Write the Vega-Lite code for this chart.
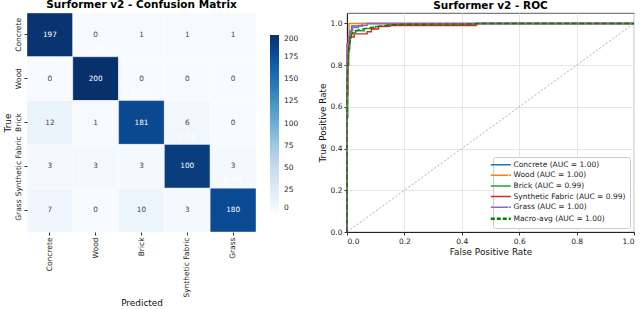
{
  "$schema": "https://vega.github.io/schema/vega-lite/v6.json",
  "padding": {"left": 3, "top": 0, "right": 0, "bottom": 0},
  "background": "white",
  "config": {
    "font": "DejaVu Sans",
    "view": {"stroke": null},
    "axis": {"labelFont": "DejaVu Sans", "titleFont": "DejaVu Sans", "labelFontSize": 7.5, "titleFontSize": 8.9, "titleFontWeight": "normal", "labelColor": "#222", "titleColor": "#111", "tickColor": "#333", "tickSize": 3, "labelPadding": 2},
    "title": {"font": "DejaVu Sans", "fontSize": 10.5, "fontWeight": "bold", "offset": 2, "color": "#000"},
    "legend": {"labelFont": "DejaVu Sans"}
  },
  "datasets": {
    "cm": [
      {"pred": "Concrete", "true": "Concrete", "n": 197, "label": "197"},
      {"pred": "Wood", "true": "Concrete", "n": 0, "label": "0"},
      {"pred": "Brick", "true": "Concrete", "n": 1, "label": "1"},
      {"pred": "Synthetic Fabric", "true": "Concrete", "n": 1, "label": "1"},
      {"pred": "Grass", "true": "Concrete", "n": 1, "label": "1"},
      {"pred": "Concrete", "true": "Wood", "n": 0, "label": "0"},
      {"pred": "Wood", "true": "Wood", "n": 200, "label": "200"},
      {"pred": "Brick", "true": "Wood", "n": 0, "label": "0"},
      {"pred": "Synthetic Fabric", "true": "Wood", "n": 0, "label": "0"},
      {"pred": "Grass", "true": "Wood", "n": 0, "label": "0"},
      {"pred": "Concrete", "true": "Brick", "n": 12, "label": "12"},
      {"pred": "Wood", "true": "Brick", "n": 1, "label": "1"},
      {"pred": "Brick", "true": "Brick", "n": 181, "label": "181"},
      {"pred": "Synthetic Fabric", "true": "Brick", "n": 6, "label": "6"},
      {"pred": "Grass", "true": "Brick", "n": 0, "label": "0"},
      {"pred": "Concrete", "true": "Synthetic Fabric", "n": 3, "label": "3"},
      {"pred": "Wood", "true": "Synthetic Fabric", "n": 3, "label": "3"},
      {"pred": "Brick", "true": "Synthetic Fabric", "n": 3, "label": "3"},
      {"pred": "Synthetic Fabric", "true": "Synthetic Fabric", "n": 190, "label": "100"},
      {"pred": "Grass", "true": "Synthetic Fabric", "n": 3, "label": "3"},
      {"pred": "Concrete", "true": "Grass", "n": 7, "label": "7"},
      {"pred": "Wood", "true": "Grass", "n": 0, "label": "0"},
      {"pred": "Brick", "true": "Grass", "n": 10, "label": "10"},
      {"pred": "Synthetic Fabric", "true": "Grass", "n": 3, "label": "3"},
      {"pred": "Grass", "true": "Grass", "n": 180, "label": "180"}
    ],
    "recall": [
      {"pred": "Wood", "true": "Concrete", "v": "1.00"},
      {"pred": "Brick", "true": "Wood", "v": "0.91"},
      {"pred": "Synthetic Fabric", "true": "Brick", "v": "0.94"},
      {"pred": "Grass", "true": "Synthetic Fabric", "v": "0.90"}
    ],
    "diag": [
      {"fpr": 0, "tpr": 0},
      {"fpr": 1, "tpr": 1}
    ],
    "roc": [
      {"s": "Concrete (AUC = 1.00)", "i": 0, "fpr": 0, "tpr": 0},
      {"s": "Concrete (AUC = 1.00)", "i": 1, "fpr": 0, "tpr": 0.86},
      {"s": "Concrete (AUC = 1.00)", "i": 2, "fpr": 0.005, "tpr": 0.86},
      {"s": "Concrete (AUC = 1.00)", "i": 3, "fpr": 0.005, "tpr": 0.93},
      {"s": "Concrete (AUC = 1.00)", "i": 4, "fpr": 0.01, "tpr": 0.93},
      {"s": "Concrete (AUC = 1.00)", "i": 5, "fpr": 0.01, "tpr": 0.96},
      {"s": "Concrete (AUC = 1.00)", "i": 6, "fpr": 0.016, "tpr": 0.96},
      {"s": "Concrete (AUC = 1.00)", "i": 7, "fpr": 0.016, "tpr": 0.988},
      {"s": "Concrete (AUC = 1.00)", "i": 8, "fpr": 0.053, "tpr": 0.988},
      {"s": "Concrete (AUC = 1.00)", "i": 9, "fpr": 0.053, "tpr": 1.0},
      {"s": "Concrete (AUC = 1.00)", "i": 10, "fpr": 1, "tpr": 1.0},
      {"s": "Wood (AUC = 1.00)", "i": 0, "fpr": 0, "tpr": 0},
      {"s": "Wood (AUC = 1.00)", "i": 1, "fpr": 0, "tpr": 0.9},
      {"s": "Wood (AUC = 1.00)", "i": 2, "fpr": 0.007, "tpr": 0.9},
      {"s": "Wood (AUC = 1.00)", "i": 3, "fpr": 0.007, "tpr": 1.0},
      {"s": "Wood (AUC = 1.00)", "i": 4, "fpr": 1, "tpr": 1.0},
      {"s": "Brick (AUC = 0.99)", "i": 0, "fpr": 0, "tpr": 0},
      {"s": "Brick (AUC = 0.99)", "i": 1, "fpr": 0, "tpr": 0.55},
      {"s": "Brick (AUC = 0.99)", "i": 2, "fpr": 0.003, "tpr": 0.55},
      {"s": "Brick (AUC = 0.99)", "i": 3, "fpr": 0.003, "tpr": 0.8},
      {"s": "Brick (AUC = 0.99)", "i": 4, "fpr": 0.006, "tpr": 0.8},
      {"s": "Brick (AUC = 0.99)", "i": 5, "fpr": 0.006, "tpr": 0.88},
      {"s": "Brick (AUC = 0.99)", "i": 6, "fpr": 0.01, "tpr": 0.88},
      {"s": "Brick (AUC = 0.99)", "i": 7, "fpr": 0.01, "tpr": 0.93},
      {"s": "Brick (AUC = 0.99)", "i": 8, "fpr": 0.015, "tpr": 0.93},
      {"s": "Brick (AUC = 0.99)", "i": 9, "fpr": 0.015, "tpr": 0.955},
      {"s": "Brick (AUC = 0.99)", "i": 10, "fpr": 0.03, "tpr": 0.955},
      {"s": "Brick (AUC = 0.99)", "i": 11, "fpr": 0.03, "tpr": 0.965},
      {"s": "Brick (AUC = 0.99)", "i": 12, "fpr": 0.06, "tpr": 0.965},
      {"s": "Brick (AUC = 0.99)", "i": 13, "fpr": 0.06, "tpr": 0.975},
      {"s": "Brick (AUC = 0.99)", "i": 14, "fpr": 0.1, "tpr": 0.975},
      {"s": "Brick (AUC = 0.99)", "i": 15, "fpr": 0.1, "tpr": 0.985},
      {"s": "Brick (AUC = 0.99)", "i": 16, "fpr": 0.14, "tpr": 0.985},
      {"s": "Brick (AUC = 0.99)", "i": 17, "fpr": 0.14, "tpr": 0.995},
      {"s": "Brick (AUC = 0.99)", "i": 18, "fpr": 0.45, "tpr": 0.995},
      {"s": "Brick (AUC = 0.99)", "i": 19, "fpr": 0.45, "tpr": 1.0},
      {"s": "Brick (AUC = 0.99)", "i": 20, "fpr": 1, "tpr": 1.0},
      {"s": "Synthetic Fabric (AUC = 0.99)", "i": 0, "fpr": 0, "tpr": 0},
      {"s": "Synthetic Fabric (AUC = 0.99)", "i": 1, "fpr": 0, "tpr": 0.66},
      {"s": "Synthetic Fabric (AUC = 0.99)", "i": 2, "fpr": 0.003, "tpr": 0.66},
      {"s": "Synthetic Fabric (AUC = 0.99)", "i": 3, "fpr": 0.003, "tpr": 0.86},
      {"s": "Synthetic Fabric (AUC = 0.99)", "i": 4, "fpr": 0.006, "tpr": 0.86},
      {"s": "Synthetic Fabric (AUC = 0.99)", "i": 5, "fpr": 0.006, "tpr": 0.91},
      {"s": "Synthetic Fabric (AUC = 0.99)", "i": 6, "fpr": 0.01, "tpr": 0.91},
      {"s": "Synthetic Fabric (AUC = 0.99)", "i": 7, "fpr": 0.01, "tpr": 0.935},
      {"s": "Synthetic Fabric (AUC = 0.99)", "i": 8, "fpr": 0.025, "tpr": 0.935},
      {"s": "Synthetic Fabric (AUC = 0.99)", "i": 9, "fpr": 0.025, "tpr": 0.95},
      {"s": "Synthetic Fabric (AUC = 0.99)", "i": 10, "fpr": 0.07, "tpr": 0.95},
      {"s": "Synthetic Fabric (AUC = 0.99)", "i": 11, "fpr": 0.07, "tpr": 0.96},
      {"s": "Synthetic Fabric (AUC = 0.99)", "i": 12, "fpr": 0.085, "tpr": 0.96},
      {"s": "Synthetic Fabric (AUC = 0.99)", "i": 13, "fpr": 0.085, "tpr": 0.973},
      {"s": "Synthetic Fabric (AUC = 0.99)", "i": 14, "fpr": 0.11, "tpr": 0.973},
      {"s": "Synthetic Fabric (AUC = 0.99)", "i": 15, "fpr": 0.11, "tpr": 0.986},
      {"s": "Synthetic Fabric (AUC = 0.99)", "i": 16, "fpr": 0.15, "tpr": 0.986},
      {"s": "Synthetic Fabric (AUC = 0.99)", "i": 17, "fpr": 0.15, "tpr": 0.99},
      {"s": "Synthetic Fabric (AUC = 0.99)", "i": 18, "fpr": 0.45, "tpr": 0.99},
      {"s": "Synthetic Fabric (AUC = 0.99)", "i": 19, "fpr": 0.45, "tpr": 1.0},
      {"s": "Synthetic Fabric (AUC = 0.99)", "i": 20, "fpr": 1, "tpr": 1.0},
      {"s": "Grass (AUC = 1.00)", "i": 0, "fpr": 0, "tpr": 0},
      {"s": "Grass (AUC = 1.00)", "i": 1, "fpr": 0, "tpr": 0.9},
      {"s": "Grass (AUC = 1.00)", "i": 2, "fpr": 0.005, "tpr": 0.9},
      {"s": "Grass (AUC = 1.00)", "i": 3, "fpr": 0.005, "tpr": 0.94},
      {"s": "Grass (AUC = 1.00)", "i": 4, "fpr": 0.01, "tpr": 0.94},
      {"s": "Grass (AUC = 1.00)", "i": 5, "fpr": 0.01, "tpr": 0.965},
      {"s": "Grass (AUC = 1.00)", "i": 6, "fpr": 0.02, "tpr": 0.965},
      {"s": "Grass (AUC = 1.00)", "i": 7, "fpr": 0.02, "tpr": 0.98},
      {"s": "Grass (AUC = 1.00)", "i": 8, "fpr": 0.04, "tpr": 0.98},
      {"s": "Grass (AUC = 1.00)", "i": 9, "fpr": 0.04, "tpr": 0.99},
      {"s": "Grass (AUC = 1.00)", "i": 10, "fpr": 0.07, "tpr": 0.99},
      {"s": "Grass (AUC = 1.00)", "i": 11, "fpr": 0.07, "tpr": 1.0},
      {"s": "Grass (AUC = 1.00)", "i": 12, "fpr": 1, "tpr": 1.0},
      {"s": "Macro-avg (AUC = 1.00)", "i": 0, "fpr": 0, "tpr": 0},
      {"s": "Macro-avg (AUC = 1.00)", "i": 1, "fpr": 0, "tpr": 0.72},
      {"s": "Macro-avg (AUC = 1.00)", "i": 2, "fpr": 0.003, "tpr": 0.8},
      {"s": "Macro-avg (AUC = 1.00)", "i": 3, "fpr": 0.006, "tpr": 0.87},
      {"s": "Macro-avg (AUC = 1.00)", "i": 4, "fpr": 0.01, "tpr": 0.91},
      {"s": "Macro-avg (AUC = 1.00)", "i": 5, "fpr": 0.015, "tpr": 0.94},
      {"s": "Macro-avg (AUC = 1.00)", "i": 6, "fpr": 0.02, "tpr": 0.955},
      {"s": "Macro-avg (AUC = 1.00)", "i": 7, "fpr": 0.03, "tpr": 0.965},
      {"s": "Macro-avg (AUC = 1.00)", "i": 8, "fpr": 0.05, "tpr": 0.972},
      {"s": "Macro-avg (AUC = 1.00)", "i": 9, "fpr": 0.08, "tpr": 0.98},
      {"s": "Macro-avg (AUC = 1.00)", "i": 10, "fpr": 0.12, "tpr": 0.988},
      {"s": "Macro-avg (AUC = 1.00)", "i": 11, "fpr": 0.16, "tpr": 0.994},
      {"s": "Macro-avg (AUC = 1.00)", "i": 12, "fpr": 0.2, "tpr": 0.996},
      {"s": "Macro-avg (AUC = 1.00)", "i": 13, "fpr": 0.44, "tpr": 0.997},
      {"s": "Macro-avg (AUC = 1.00)", "i": 14, "fpr": 0.46, "tpr": 1.0},
      {"s": "Macro-avg (AUC = 1.00)", "i": 15, "fpr": 1, "tpr": 1.0}
    ]
  },
  "spacing": 91,
  "bounds": "flush",
  "hconcat": [
    {
      "width": 229,
      "height": 219,
      "title": "Surformer v2 - Confusion Matrix",
      "layer": [
        {
          "data": {"name": "cm"},
          "mark": {"type": "rect", "stroke": "white", "strokeWidth": 0.4},
          "encoding": {
            "x": {"field": "pred", "type": "nominal", "sort": ["Concrete", "Wood", "Brick", "Synthetic Fabric", "Grass"], "scale": {"paddingInner": 0, "paddingOuter": 0}, "axis": {"title": "Predicted", "labelAngle": -90, "domain": false, "titlePadding": 1, "labelOverlap": false, "labelLimit": 0}},
            "y": {"field": "true", "type": "nominal", "sort": ["Concrete", "Wood", "Brick", "Synthetic Fabric", "Grass"], "scale": {"paddingInner": 0, "paddingOuter": 0}, "axis": {"title": "True", "labelAngle": -90, "domain": false, "titlePadding": 2, "labelOverlap": false, "labelLimit": 0, "labelBound": false}},
            "color": {
              "field": "n", "type": "quantitative",
              "scale": {"domain": [0, 25, 50, 75, 100, 125, 150, 175, 200], "range": ["#f7fbff", "#deebf7", "#c6dbef", "#9ecae1", "#6baed6", "#4292c6", "#2171b5", "#08519c", "#08306b"]},
              "legend": {"title": null, "orient": "none", "legendX": 243, "legendY": 22, "direction": "vertical", "gradientLength": 177, "gradientThickness": 9, "gradientStrokeWidth": 0, "values": [0, 25, 50, 75, 100, 125, 150, 175, 200], "labelFontSize": 7.5, "labelColor": "#222", "labelOffset": 5, "labelOverlap": false}
            }
          }
        },
        {
          "data": {"name": "cm"},
          "mark": {"type": "text", "fontSize": 7.3},
          "encoding": {
            "x": {"field": "pred", "type": "nominal", "sort": ["Concrete", "Wood", "Brick", "Synthetic Fabric", "Grass"]},
            "y": {"field": "true", "type": "nominal", "sort": ["Concrete", "Wood", "Brick", "Synthetic Fabric", "Grass"]},
            "text": {"field": "label"},
            "color": {"condition": {"test": "datum.n > 100", "value": "white"}, "value": "#444"}
          }
        },
        {
          "data": {"name": "recall"},
          "mark": {"type": "text", "fontSize": 7.5, "fontWeight": "bold", "color": "white", "dy": 14, "opacity": 0.9},
          "encoding": {
            "x": {"field": "pred", "type": "nominal", "sort": ["Concrete", "Wood", "Brick", "Synthetic Fabric", "Grass"]},
            "y": {"field": "true", "type": "nominal", "sort": ["Concrete", "Wood", "Brick", "Synthetic Fabric", "Grass"]},
            "text": {"field": "v"}
          }
        }
      ]
    },
    {
      "width": 287,
      "height": 219,
      "title": "Surformer v2 - ROC",
      "view": {"stroke": "#333", "strokeWidth": 0.8},
      "layer": [
        {
          "data": {"name": "diag"},
          "mark": {"type": "line", "color": "#888", "strokeDash": [2, 2], "strokeWidth": 0.7},
          "encoding": {
            "x": {"field": "fpr", "type": "quantitative", "scale": {"domain": [0, 1], "nice": false}, "axis": {"title": "False Positive Rate", "values": [0, 0.2, 0.4, 0.6, 0.8, 1.0], "format": ".1f", "grid": true, "gridColor": "#e6e6e6", "domainColor": "#222", "titlePadding": 3}},
            "y": {"field": "tpr", "type": "quantitative", "scale": {"domain": [0, 1.05], "nice": false}, "axis": {"title": "True Positive Rate", "values": [0, 0.2, 0.4, 0.6, 0.8, 1.0], "format": ".1f", "grid": true, "gridColor": "#e6e6e6", "domainColor": "#222", "titlePadding": 3}}
          }
        },
        {
          "data": {"name": "roc"},
          "mark": {"type": "line", "strokeWidth": 1.4},
          "encoding": {
            "x": {"field": "fpr", "type": "quantitative"},
            "y": {"field": "tpr", "type": "quantitative"},
            "order": {"field": "i", "type": "quantitative"},
            "strokeWidth": {"condition": {"test": "datum.s === 'Macro-avg (AUC = 1.00)'", "value": 2.5}, "value": 1.4},
            "strokeDash": {"condition": {"test": "datum.s === 'Macro-avg (AUC = 1.00)'", "value": [5, 2.5]}, "value": [1, 0]},
            "color": {
              "field": "s", "type": "nominal",
              "scale": {"domain": ["Concrete (AUC = 1.00)", "Wood (AUC = 1.00)", "Brick (AUC = 0.99)", "Synthetic Fabric (AUC = 0.99)", "Grass (AUC = 1.00)", "Macro-avg (AUC = 1.00)"], "range": ["#1f77b4", "#ff7f0e", "#2ca02c", "#d62728", "#9467bd", "#008000"]},
              "legend": {"title": null, "orient": "bottom-right", "offset": 4, "padding": 4, "fillColor": "white", "strokeColor": "#cccccc", "cornerRadius": 2, "symbolType": "M-2,0H2", "symbolSize": 100, "symbolStrokeWidth": 1.5, "labelFontSize": 7.5, "labelColor": "#222", "rowPadding": 1.6, "labelOffset": 9, "encode": {"symbols": {"update": {"strokeWidth": {"signal": "datum.value === 'Macro-avg (AUC = 1.00)' ? 2.4 : 1.5"}, "strokeDash": {"signal": "datum.value === 'Macro-avg (AUC = 1.00)' ? [4, 2] : [1, 0]"}}}}}
            }
          }
        }
      ]
    }
  ]
}
